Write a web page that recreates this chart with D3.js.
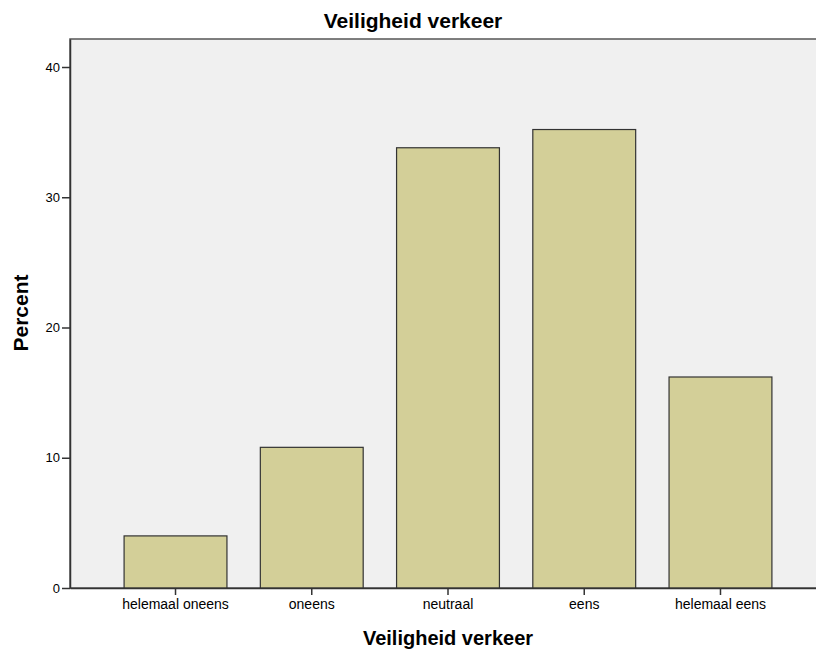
<!DOCTYPE html>
<html>
<head>
<meta charset="utf-8">
<script src="https://cdn.jsdelivr.net/npm/d3@7"></script>
<style>
  body { margin: 0; background: #fff; }
  text { font-family: "Liberation Sans", Arial, sans-serif; fill: #000; }
</style>
</head>
<body>
<script>
const categories = ["helemaal oneens", "oneens", "neutraal", "eens", "helemaal eens"];
const percents = [4.0, 10.8, 33.8, 35.2, 16.2];
const yTicks = [0, 10, 20, 30, 40];

const w = 816;
const h = 655;
const plotLeft = 70;
const plotRight = 826;
const plotTop = 39;
const plotBottom = 588;

const svg = d3.select("body").append("svg").attr("width", w).attr("height", h);

// plot background + frame
svg.append("rect")
  .attr("x", plotLeft)
  .attr("y", plotTop)
  .attr("width", plotRight - plotLeft)
  .attr("height", plotBottom - plotTop)
  .style("fill", "#f0f0f0")
  .style("stroke", "#555")
  .style("stroke-width", 1.5);

const xScale = d3.scaleBand()
  .domain(categories)
  .range([plotLeft, plotRight])
  .paddingInner(0.245)
  .paddingOuter(0.397);

const yScale = d3.scaleLinear()
  .domain([0, 42.15])
  .range([plotBottom, plotTop]);

svg.selectAll("rect.bar")
  .data(percents)
  .enter()
  .append("rect")
  .attr("class", "bar")
  .attr("x", (d, i) => xScale(categories[i]))
  .attr("y", (d) => yScale(d))
  .attr("width", xScale.bandwidth())
  .attr("height", (d) => plotBottom - yScale(d))
  .style("fill", "#d3cf98")
  .style("stroke", "#333")
  .style("stroke-width", 1.2);

// y axis
const yAxis = d3.axisLeft(yScale).tickValues(yTicks).tickSize(8).tickPadding(2).tickSizeOuter(0);
const gy = svg.append("g")
  .attr("transform", "translate(" + plotLeft + ",0)")
  .call(yAxis);
gy.select(".domain").style("stroke", "#333").style("stroke-width", 1.5);
gy.selectAll(".tick line").style("stroke", "#333").style("stroke-width", 1.5);
gy.selectAll(".tick text").style("font-size", "13px").style("fill", "#000");

// x axis
const xAxis = d3.axisBottom(xScale).tickSize(7).tickPadding(4).tickSizeOuter(0);
const gx = svg.append("g")
  .attr("transform", "translate(0," + plotBottom + ")")
  .call(xAxis);
gx.select(".domain").style("stroke", "#333").style("stroke-width", 1.5);
gx.selectAll(".tick line").style("stroke", "#333").style("stroke-width", 1.5);
gx.selectAll(".tick text").style("font-size", "14px").style("fill", "#000");

// titles
svg.append("text")
  .attr("x", 413)
  .attr("y", 28)
  .attr("text-anchor", "middle")
  .style("font-size", "21px")
  .style("font-weight", "bold")
  .text("Veiligheid verkeer");

svg.append("text")
  .attr("x", 448)
  .attr("y", 645)
  .attr("text-anchor", "middle")
  .style("font-size", "20px")
  .style("font-weight", "bold")
  .text("Veiligheid verkeer");

svg.append("text")
  .attr("transform", "translate(28,313) rotate(-90)")
  .attr("text-anchor", "middle")
  .style("font-size", "21px")
  .style("font-weight", "bold")
  .text("Percent");
</script>
</body>
</html>
